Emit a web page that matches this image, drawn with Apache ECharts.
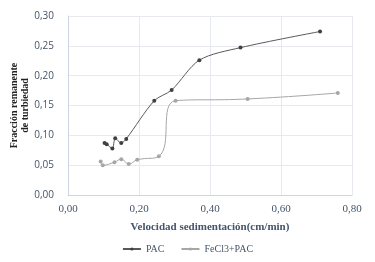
<!DOCTYPE html>
<html lang="es">
<head>
    <meta charset="UTF-8">
    <title>Fracción remanente</title>
    <script src="https://cdn.jsdelivr.net/npm/echarts@6/dist/echarts.min.js"></script>
    <style>
        html, body { margin: 0; padding: 0; background: #fff; }
    </style>
</head>
<body>
<div id="main" style="width: 375px;height: 262px;"></div>
<script>
    // datos
    var pacX = [0.103, 0.109, 0.125, 0.133, 0.150, 0.164, 0.243, 0.292, 0.370, 0.486, 0.710];
    var pacY = [0.087, 0.085, 0.078, 0.095, 0.087, 0.094, 0.158, 0.176, 0.226, 0.247, 0.274];
    var fecX = [0.092, 0.098, 0.131, 0.150, 0.171, 0.195, 0.256, 0.303, 0.506, 0.760];
    var fecY = [0.056, 0.050, 0.055, 0.060, 0.052, 0.059, 0.065, 0.158, 0.161, 0.171];
    var xTicks = ['0,00', '0,20', '0,40', '0,60', '0,80'];
    var yTicks = ['0,00', '0,05', '0,10', '0,15', '0,20', '0,25', '0,30'];

    function pares(xs, ys) {
        var out = [];
        for (var i = 0; i < xs.length; i++) {
            out.push([xs[i], ys[i]]);
        }
        return out;
    }

    var myChart = echarts.init(document.getElementById('main'));
    var serif = 'Liberation Serif';
    var azul = '#44546a';

    var option = {
        animation: false,
        legend: {
            bottom: 3,
            left: 'center',
            itemWidth: 18,
            itemHeight: 4,
            itemGap: 16,
            textStyle: { fontFamily: serif, fontSize: 10, color: azul },
            data: ['PAC', 'FeCl3+PAC']
        },
        grid: { left: 68, right: 23, top: 16, bottom: 67 },
        xAxis: {
            type: 'value',
            min: 0, max: 0.8, interval: 0.2,
            name: 'Velocidad sedimentación(cm/min)',
            nameLocation: 'middle',
            nameGap: 27,
            nameMoveOverlap: false,
            nameTextStyle: { fontFamily: serif, fontSize: 11, fontWeight: 'bold', color: azul },
            axisLine: { lineStyle: { color: '#cdd5e0' } },
            axisTick: { show: false },
            axisLabel: {
                fontFamily: serif, fontSize: 11, color: azul, margin: 9,
                formatter: function (v) { return xTicks[Math.round(v / 0.2)]; }
            },
            splitLine: { show: true, lineStyle: { color: '#e6e9ee' } }
        },
        yAxis: {
            type: 'value',
            min: 0, max: 0.3, interval: 0.05,
            name: 'Fracción remanente\nde turbiedad',
            nameLocation: 'middle',
            nameGap: 37,
            nameMoveOverlap: false,
            nameTextStyle: { fontFamily: serif, fontSize: 10, fontWeight: 'bold', color: '#222', lineHeight: 11 },
            axisLine: { show: true, lineStyle: { color: '#cdd5e0' } },
            axisTick: { show: false },
            axisLabel: {
                fontFamily: 'Open Sans', fontSize: 10, color: azul, margin: 14,
                formatter: function (v) { return yTicks[Math.round(v / 0.05)]; }
            },
            splitLine: { show: true, lineStyle: { color: '#e6e9ee' } }
        },
        series: [
            {
                name: 'PAC',
                type: 'line',
                smooth: 0.3,
                symbol: 'circle',
                symbolSize: 4,
                itemStyle: { color: '#404040' },
                lineStyle: { color: '#595959', width: 1 },
                data: pares(pacX, pacY)
            },
            {
                name: 'FeCl3+PAC',
                type: 'line',
                smooth: 0.5,
                symbol: 'circle',
                symbolSize: 4,
                itemStyle: { color: '#a6a6a6' },
                lineStyle: { color: '#a6a6a6', width: 1 },
                data: pares(fecX, fecY)
            }
        ]
    };
    myChart.setOption(option);
</script>
</body>
</html>
